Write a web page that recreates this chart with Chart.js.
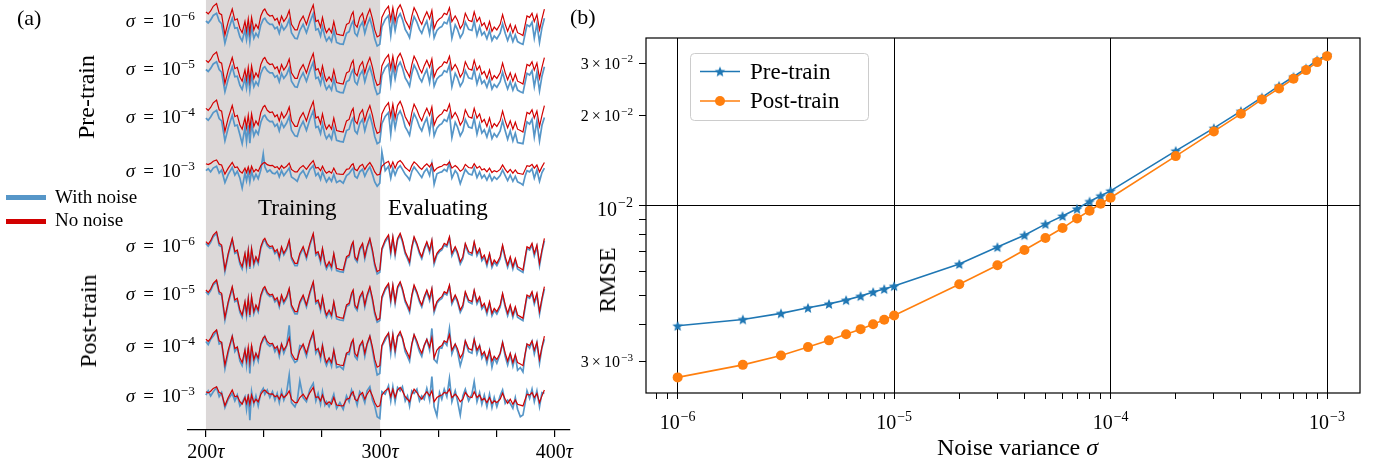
<!DOCTYPE html>
<html>
<head>
<meta charset="utf-8">
<script src="https://cdn.jsdelivr.net/npm/chart.js@4.4.1/dist/chart.umd.min.js"></script>
<style>
  body { margin: 0; background: #fff; }
  #wrap { position: relative; width: 1383px; height: 468px; font-family: 'Liberation Serif', serif; color: #000; overflow: hidden; }
  .abs { position: absolute; white-space: nowrap; line-height: normal; }
  .rot { position: absolute; white-space: nowrap; line-height: 1; transform: translate(-50%, -50%) rotate(-90deg); }
  .rowlab { position: absolute; left: 0; width: 195px; text-align: right; font-size: 19px; line-height: normal; white-space: nowrap; }
  .rowlab .eq { margin: 0 8px; }
  sup { font-size: 0.7em; line-height: 0; vertical-align: 0.55em; }
  #chartA { position: absolute; left: 0; top: 0; }
  #chartB { position: absolute; left: 570px; top: 0; }
  .sw { position: absolute; left: 6px; width: 40px; height: 5px; }
</style>
</head>
<body>
<div id="wrap">
  <canvas id="chartA" width="600" height="468"></canvas>
  <canvas id="chartB" width="813" height="468"></canvas>

  <div class="abs" style="left:17px; top:5px; font-size:22px">(a)</div>
  <div class="abs" style="left:570px; top:4px; font-size:22px">(b)</div>

  <div class="rot" style="left:86px; top:97px; font-size:24px">Pre-train</div>
  <div class="rot" style="left:88px; top:321px; font-size:24px">Post-train</div>

  <div class="rowlab" style="top:10px"><i>σ</i><span class="eq">=</span>10<sup>−6</sup></div>
  <div class="rowlab" style="top:58px"><i>σ</i><span class="eq">=</span>10<sup>−5</sup></div>
  <div class="rowlab" style="top:106px"><i>σ</i><span class="eq">=</span>10<sup>−4</sup></div>
  <div class="rowlab" style="top:160px"><i>σ</i><span class="eq">=</span>10<sup>−3</sup></div>
  <div class="rowlab" style="top:235px"><i>σ</i><span class="eq">=</span>10<sup>−6</sup></div>
  <div class="rowlab" style="top:283px"><i>σ</i><span class="eq">=</span>10<sup>−5</sup></div>
  <div class="rowlab" style="top:335px"><i>σ</i><span class="eq">=</span>10<sup>−4</sup></div>
  <div class="rowlab" style="top:385px"><i>σ</i><span class="eq">=</span>10<sup>−3</sup></div>

  <div class="sw" style="top:195px; background:#5696c8"></div>
  <div class="sw" style="top:219px; background:#d20000"></div>
  <div class="abs" style="left:55px; top:186px; font-size:19px">With noise</div>
  <div class="abs" style="left:55px; top:209px; font-size:19px">No noise</div>

  <div class="abs" style="left:258px; top:195px; font-size:23px">Training</div>
  <div class="abs" style="left:388px; top:195px; font-size:23px">Evaluating</div>

  <div class="rot" style="left:607px; top:280px; font-size:24px">RMSE</div>
  <div class="abs" style="left:937px; top:434px; font-size:24px">Noise variance <i>σ</i></div>
</div>

<script>
// ---------- panel (a): time series ----------
const timeSteps = [
  200.0, 201.3, 202.7, 204.2, 206.1, 207.6, 209.0, 210.9, 212.8, 215.1,
  216.6, 218.0, 219.5, 220.8, 222.4, 223.3, 224.3, 225.2, 226.2, 227.5,
  228.7, 230.0, 231.5, 232.9, 233.8, 235.2, 236.7, 238.2, 239.6, 240.9,
  242.1, 243.4, 244.7, 246.3, 247.8, 249.1, 251.1, 252.4, 253.9, 255.8,
  257.7, 259.7, 261.6, 263.1, 264.4, 265.8, 266.9, 268.3, 269.2, 270.7,
  272.1, 273.4, 275.0, 276.9, 278.8, 280.7, 282.2, 283.6, 284.5, 285.5,
  286.8, 288.3, 289.9, 291.2, 292.5, 294.1, 295.6, 296.9, 298.3, 299.8,
  301.0, 302.9, 304.8, 306.1, 307.3, 308.6, 310.0, 311.5, 312.8, 314.4,
  315.7, 316.9, 318.2, 319.5, 321.1, 322.6, 323.9, 325.3, 326.8, 328.4,
  329.7, 331.0, 332.6, 334.1, 335.4, 336.8, 338.3, 339.8, 341.2, 343.1,
  344.4, 346.0, 347.5, 348.9, 350.8, 352.7, 354.0, 355.6, 357.1, 358.4,
  359.8, 361.3, 362.8, 364.2, 365.5, 367.0, 368.9, 370.3, 371.8, 373.2,
  374.7, 376.2, 377.6, 378.9, 380.5, 382.0, 383.3, 384.3, 385.8, 387.2,
  388.5, 390.0, 391.5, 392.9, 394.3
];

// red "No noise" curve, same in every row
const noNoise = [
  0.95, 0.88, 0.98, 1.15, 1.25, 0.90, 0.85, 0.12, 0.60, 1.05,
  0.65, 0.70, 0.35, 0.20, 0.60, 0.25, 0.70, 0.20, 0.75, 0.30,
  0.50, 0.35, 0.80, 1.00, 1.05, 0.88, 0.80, 0.82, 0.65, 0.72,
  0.50, 0.80, 0.60, 0.75, 1.00, 0.50, 0.30, 0.30, 0.60, 0.80,
  0.50, 0.90, 1.20, 0.60, 0.65, 0.40, 0.75, 0.35, 0.20, 0.35,
  0.20, 0.60, 0.15, 0.12, 0.10, 0.50, 0.55, 0.85, 0.95, 0.50,
  0.40, 0.75, 0.90, 0.50, 0.80, 1.05, 0.70, 0.30, 0.05, 0.10,
  0.75, 1.00, 1.15, 0.65, 1.10, 0.60, 1.05, 1.20, 1.00, 0.65,
  0.50, 0.35, 0.80, 1.10, 0.90, 0.65, 0.50, 0.75, 0.95, 0.70,
  1.00, 0.35, 0.60, 0.70, 0.75, 0.90, 0.85, 1.10, 0.60, 0.80,
  0.65, 0.35, 0.50, 0.90, 0.65, 0.60, 0.95, 0.60, 0.75, 0.45,
  0.55, 0.30, 0.60, 0.25, 0.40, 0.30, 0.50, 0.85, 0.50, 0.25,
  0.50, 0.20, 0.45, 0.20, 0.15, 0.10, 0.50, 0.80, 0.75, 0.90,
  0.60, 0.85, 0.30, 0.70, 1.05
];

// blue "With noise" curves
// pre-train, sigma = 1e-6 and 1e-5 (the two rows look identical)
const preLowNoise = [
  0.62, 0.55, 0.66, 0.82, 0.90, 0.62, 0.52, -0.18, 0.28, 0.72,
  0.36, 0.38, 0.05, -0.10, 0.30, -0.05, 0.38, -0.12, 0.42, 0.00,
  0.18, 0.05, 0.48, 0.68, 0.72, 0.58, 0.50, 0.50, 0.34, 0.40,
  0.18, 0.48, 0.30, 0.44, 0.68, 0.20, 0.00, -0.02, 0.28, 0.50,
  0.20, 0.58, 0.88, 0.30, 0.34, 0.08, 0.42, 0.05, -0.10, 0.04,
  -0.12, 0.28, -0.15, -0.20, -0.22, 0.18, 0.24, 0.52, 0.62, 0.18,
  0.08, 0.42, 0.58, 0.18, 0.48, 0.72, 0.38, -0.02, -0.28, -0.22,
  0.42, 0.68, 0.82, 0.10, 0.78, 0.28, 0.72, 0.88, 0.68, 0.32,
  0.18, 0.02, 0.48, 0.78, 0.58, 0.32, 0.18, 0.42, 0.62, 0.15,
  0.68, 0.02, 0.28, 0.38, 0.42, 0.58, 0.52, 0.78, 0.00, 0.48,
  0.32, 0.02, 0.18, 0.58, 0.32, 0.28, 0.62, 0.10, 0.42, 0.12,
  0.22, -0.02, 0.28, -0.08, 0.08, -0.02, 0.18, 0.52, 0.18, -0.08,
  0.18, -0.12, 0.12, -0.12, -0.18, -0.22, 0.18, 0.48, 0.42, 0.58,
  0.00, 0.52, -0.15, 0.38, 0.72
];
const pre4Noise = [
  0.60, 0.52, 0.64, 0.80, 0.88, 0.58, 0.50, -0.22, 0.25, 0.70,
  0.32, 0.35, 0.00, -0.32, 0.26, -0.25, 0.34, -0.30, 0.40, -0.04,
  0.15, 0.02, 0.45, 0.66, 0.70, 0.55, 0.47, 0.48, 0.30, 0.38,
  0.14, 0.45, 0.26, 0.42, 0.66, 0.16, -0.04, -0.06, 0.25, 0.48,
  0.16, 0.56, 0.86, 0.26, 0.30, 0.04, 0.40, 0.00, -0.14, 0.00,
  -0.16, 0.25, -0.20, -0.24, -0.26, 0.15, 0.20, 0.50, 0.60, 0.14,
  0.04, 0.40, 0.56, 0.14, 0.45, 0.70, 0.34, -0.06, -0.32, -0.26,
  0.40, 0.66, 0.80, 0.02, 0.76, 0.24, 0.70, 0.86, 0.66, 0.28,
  0.14, -0.02, 0.45, 0.76, 0.55, 0.28, 0.14, 0.40, 0.60, 0.08,
  0.66, -0.04, 0.24, 0.35, 0.40, 0.55, 0.48, 0.76, -0.10, 0.45,
  0.28, -0.04, 0.14, 0.55, 0.28, 0.24, 0.60, 0.02, 0.40, 0.06,
  0.18, -0.08, 0.24, -0.14, 0.04, -0.08, 0.14, 0.50, 0.14, -0.16,
  0.14, -0.22, 0.06, -0.28, -0.30, -0.32, 0.14, 0.46, 0.38, 0.56,
  -0.08, 0.50, -0.22, 0.34, 0.62
];
const pre3Noise = [
  0.40, 0.55, 0.30, 0.60, 0.75, 0.20, 0.45, -0.55, 0.10, 0.65,
  0.05, 0.35, -0.20, -1.00, 0.20, -0.40, 0.30, -0.50, 0.35, -0.30,
  0.10, -0.25, 0.45, 1.75, 0.70, 0.30, 0.45, 0.20, 0.15, 0.35,
  -0.10, 0.40, 0.00, 0.30, 0.60, -0.10, -0.30, -0.45, 0.10, 0.40,
  -0.15, 0.50, 0.80, 0.00, 0.20, -0.30, 0.30, -0.20, -0.50, -0.15,
  -0.45, 0.10, -0.55, -0.40, -0.60, 0.00, 0.15, 0.45, 0.60, -0.05,
  -0.20, 0.30, 0.50, -0.05, 0.35, 0.70, 0.10, -0.50, -0.85, -0.60,
  1.90, 0.40, 0.75, -0.20, 0.60, 0.05, 0.55, 0.80, 0.50, 0.10,
  -0.10, -0.35, 0.35, 0.70, 0.40, 0.10, -0.15, 0.30, 0.55, 0.00,
  0.95, -0.70, 0.15, 0.25, 0.30, 0.50, 0.35, 1.05, -0.20, 0.40,
  0.15, -0.65, -0.05, 0.50, 0.15, 0.05, 0.60, -0.15, 0.30, -0.20,
  0.05, -0.35, 0.10, -0.40, -0.10, -0.30, 0.00, 0.45, 0.00, -0.40,
  0.05, -0.45, -0.05, -0.50, -0.60, -0.75, 0.00, 0.40, 0.30, 0.55,
  -0.20, 0.45, -0.45, 0.25, 0.60
];
// post-train, sigma = 1e-6 and 1e-5
const postLowNoise = [
  0.90, 0.82, 0.93, 1.10, 1.20, 0.84, 0.80, 0.05, 0.55, 1.00,
  0.60, 0.64, 0.28, 0.13, 0.55, 0.18, 0.65, 0.13, 0.70, 0.24,
  0.45, 0.29, 0.75, 0.95, 1.00, 0.83, 0.75, 0.77, 0.59, 0.67,
  0.44, 0.75, 0.55, 0.70, 0.95, 0.44, 0.23, 0.23, 0.55, 0.75,
  0.44, 0.85, 1.15, 0.54, 0.60, 0.33, 0.70, 0.28, 0.13, 0.29,
  0.13, 0.55, 0.08, 0.05, 0.03, 0.45, 0.50, 0.80, 0.90, 0.44,
  0.34, 0.70, 0.85, 0.44, 0.75, 1.00, 0.64, 0.23, -0.02, 0.03,
  0.70, 0.95, 1.10, 0.58, 1.05, 0.54, 1.00, 1.15, 0.95, 0.59,
  0.44, 0.28, 0.75, 1.05, 0.85, 0.59, 0.44, 0.70, 0.90, 0.63,
  0.95, 0.28, 0.55, 0.65, 0.70, 0.85, 0.80, 1.05, 0.53, 0.75,
  0.59, 0.28, 0.44, 0.85, 0.59, 0.54, 0.90, 0.53, 0.70, 0.38,
  0.49, 0.23, 0.55, 0.18, 0.34, 0.23, 0.44, 0.80, 0.44, 0.18,
  0.44, 0.13, 0.39, 0.13, 0.08, 0.03, 0.44, 0.75, 0.70, 0.85,
  0.53, 0.80, 0.23, 0.65, 0.98
];
const post4Noise = [
  0.88, 0.78, 0.95, 1.06, 1.22, 0.80, 0.84, 0.00, 0.52, 1.04,
  0.55, 0.68, 0.25, 0.10, 0.58, 0.12, 0.68, -0.15, 0.74, 0.20,
  0.48, 0.25, 0.78, 0.92, 1.04, 0.80, 0.72, 0.80, 0.55, 0.70,
  0.40, 0.78, 0.50, 0.74, 1.40, 0.40, 0.20, 0.26, 0.75, 0.72,
  0.40, 0.88, 1.12, 0.50, 0.64, 0.30, 0.74, 0.24, 0.10, 0.32,
  0.08, 0.58, 0.04, 0.08, -0.02, 0.48, 0.46, 0.84, 0.88, 0.40,
  0.30, 0.74, 0.82, 0.40, 0.78, 1.04, 0.60, 0.18, -0.20, -0.15,
  0.72, 0.92, 1.14, 0.50, 1.08, 0.50, 1.04, 1.12, 0.98, 0.55,
  0.40, 0.24, 0.78, 1.08, 0.82, 0.55, 0.40, 0.74, 0.94, 0.60,
  1.30, 0.30, 0.20, 0.68, 0.66, 0.88, 0.76, 1.30, 0.48, 0.78,
  0.55, 0.10, 0.40, 0.88, 0.55, 0.50, 0.94, 0.48, 0.74, 0.34,
  0.52, 0.18, 0.58, 0.05, 0.36, 0.18, 0.48, 0.84, 0.40, 0.12,
  0.46, 0.08, 0.42, -0.05, 0.04, -0.10, 0.48, 0.78, 0.66, 0.88,
  0.48, 0.84, 0.18, 0.68, 0.95
];
const post3Noise = [
  0.75, 1.00, 0.70, 0.95, 1.20, 0.65, 0.90, 0.00, 0.50, 0.85,
  0.40, 0.75, 0.10, 0.30, 0.65, -0.10, 0.80, -0.75, 0.95, 0.20,
  0.70, 0.10, 0.90, 1.15, 0.80, 1.05, 0.60, 0.95, 0.45, 0.85,
  0.30, 1.00, 0.45, 0.90, 1.95, 0.30, 0.05, 0.40, 1.60, 0.60,
  0.35, 1.10, 1.45, 0.40, 0.85, 0.20, 0.95, 0.15, 0.35, 0.05,
  0.40, 0.80, -0.05, 0.30, -0.10, 0.70, 0.35, 1.05, 0.75, 0.65,
  0.15, 0.95, 0.70, 0.30, 1.00, 1.25, 0.45, 0.10, -0.55, -0.65,
  0.95, 0.80, 1.30, 0.40, 1.25, 0.35, 1.20, 1.00, 1.25, 0.40,
  0.70, 0.10, 1.00, 0.85, 1.10, 0.40, 0.70, 0.50, 1.15, 0.45,
  1.85, 0.05, -0.50, 0.90, 0.50, 1.10, 0.65, 1.75, 0.35, 1.00,
  0.40, -0.45, 0.70, 1.10, 0.40, 0.80, 1.55, 0.35, 0.90, 0.20,
  0.75, 0.05, 0.80, 0.00, 0.60, 0.05, 0.70, 1.05, 0.25, 0.45,
  0.25, -0.05, 0.60, -0.10, -0.55, -0.45, 0.30, 1.00, 0.55, 1.10,
  0.35, 1.00, 0.05, 0.90, 0.85
];

const timeTicks = [200, 233.33, 266.67, 300, 333.33, 366.67, 400];
const timeLabels = [200, 300, 400];

// one blue curve per row, top to bottom
const rowBlue = [preLowNoise, preLowNoise, pre4Noise, pre3Noise,
                 postLowNoise, postLowNoise, post4Noise, post3Noise];
// row layout: pixel of the red peak, pixels per unit
const rowPeakPx = [3.5, 52, 100, 160, 231.7, 280, 330, 386.7];
const rowPxPerUnit = [27.8, 27.8, 27.8, 12.5, 33.3, 33.3, 31, 16.7];

const BLUE_A = '#5696c8';
const RED_A = '#d20000';
const areaH = 430;
const peakVal = Math.max(...noNoise);

const scalesA = {
  x: {
    type: 'linear', min: 189.7, max: 409,
    afterBuildTicks: s => { s.ticks = timeTicks.map(v => ({ value: v })); },
    afterFit: s => { s.height = 38; },
    ticks: { display: false },
    grid: { drawOnChartArea: false, drawTicks: true, tickLength: 7, color: '#000', tickColor: '#000', lineWidth: 1.2 },
    border: { display: true, color: '#000', width: 1.3 }
  }
};
const datasetsA = [];
rowBlue.forEach((blue, r) => {
  const top = peakVal + rowPeakPx[r] / rowPxPerUnit[r];
  scalesA['y' + r] = { type: 'linear', display: false, min: top - areaH / rowPxPerUnit[r], max: top };
  datasetsA.push({
    data: timeSteps.map((t, k) => ({ x: t, y: noNoise[k] })),
    yAxisID: 'y' + r, borderColor: RED_A, borderWidth: 1.2, pointRadius: 0, order: 1
  });
  datasetsA.push({
    data: timeSteps.map((t, k) => ({ x: t, y: blue[k] })),
    yAxisID: 'y' + r, borderColor: BLUE_A, borderWidth: 1.7, pointRadius: 0, order: 2
  });
});

const bandPlugin = {
  id: 'band',
  beforeDraw(chart) {
    const { ctx, chartArea: a, scales: { x } } = chart;
    ctx.save();
    ctx.fillStyle = '#dcd8d8';
    const x0 = x.getPixelForValue(200), x1 = x.getPixelForValue(300);
    ctx.fillRect(x0, a.top, x1 - x0, a.bottom - a.top);
    ctx.restore();
  },
  afterDraw(chart) {
    const { ctx, scales: { x } } = chart;
    ctx.save();
    ctx.fillStyle = '#000';
    ctx.textBaseline = 'alphabetic';
    timeLabels.forEach(v => {
      const px = x.getPixelForValue(v);
      ctx.font = "20px 'Liberation Serif'";
      const w1 = ctx.measureText(String(v)).width;
      ctx.font = "italic 20px 'Liberation Serif'";
      const w2 = ctx.measureText('τ').width;
      const x0 = px - (w1 + w2) / 2;
      ctx.font = "20px 'Liberation Serif'";
      ctx.fillText(String(v), x0, 458);
      ctx.font = "italic 20px 'Liberation Serif'";
      ctx.fillText('τ', x0 + w1, 458);
    });
    ctx.restore();
  }
};

new Chart(document.getElementById('chartA'), {
  type: 'line',
  data: { datasets: datasetsA },
  options: {
    responsive: false, animation: false, devicePixelRatio: 1,
    layout: { padding: { left: 188, right: 30, top: 0, bottom: 0 } },
    plugins: { legend: { display: false }, tooltip: { enabled: false } },
    scales: scalesA
  },
  plugins: [bandPlugin]
});

// ---------- panel (b): RMSE vs noise variance ----------
const noiseVar = [1e-6, 2e-6, 3e-6, 4e-6, 5e-6, 6e-6, 7e-6, 8e-6, 9e-6,
                  1e-5, 2e-5, 3e-5, 4e-5, 5e-5, 6e-5, 7e-5, 8e-5, 9e-5,
                  1e-4, 2e-4, 3e-4, 4e-4, 5e-4, 6e-4, 7e-4, 8e-4, 9e-4, 1e-3];
const rmsePre = [3.96e-3, 4.16e-3, 4.36e-3, 4.55e-3, 4.69e-3, 4.83e-3, 4.98e-3, 5.14e-3, 5.26e-3,
                 5.38e-3, 6.38e-3, 7.27e-3, 7.97e-3, 8.68e-3, 9.24e-3, 9.77e-3, 1.034e-2, 1.080e-2,
                 1.122e-2, 1.528e-2, 1.820e-2, 2.076e-2, 2.307e-2, 2.523e-2, 2.706e-2, 2.886e-2, 3.077e-2, 3.20e-2];
const rmsePost = [2.66e-3, 2.93e-3, 3.15e-3, 3.36e-3, 3.54e-3, 3.71e-3, 3.86e-3, 4.01e-3, 4.15e-3,
                  4.29e-3, 5.46e-3, 6.32e-3, 7.11e-3, 7.80e-3, 8.42e-3, 9.07e-3, 9.62e-3, 1.016e-2,
                  1.064e-2, 1.467e-2, 1.775e-2, 2.033e-2, 2.272e-2, 2.473e-2, 2.665e-2, 2.849e-2, 3.03e-2, 3.173e-2];

const xTicksB = [8e-7, 9e-7, 1e-6, 2e-6, 3e-6, 4e-6, 5e-6, 6e-6, 7e-6, 8e-6, 9e-6,
                 1e-5, 2e-5, 3e-5, 4e-5, 5e-5, 6e-5, 7e-5, 8e-5, 9e-5,
                 1e-4, 2e-4, 3e-4, 4e-4, 5e-4, 6e-4, 7e-4, 8e-4, 9e-4, 1e-3];
const xDecades = [1e-6, 1e-5, 1e-4, 1e-3];
const yTicksB = [3e-3, 4e-3, 5e-3, 6e-3, 7e-3, 8e-3, 9e-3, 1e-2, 2e-2, 3e-2];
const yLabels = [
  { v: 3e-2, mant: '3', exp: '2' },
  { v: 2e-2, mant: '2', exp: '2' },
  { v: 1e-2, mant: '', exp: '2' },
  { v: 3e-3, mant: '3', exp: '3' }
];

const C_PRE = '#1f77b4';
const C_POST = '#ff7f0e';

function makeStar(r, color) {
  const c = document.createElement('canvas');
  const size = Math.ceil(2 * r + 2);
  c.width = c.height = size;
  const g = c.getContext('2d');
  g.fillStyle = color;
  g.beginPath();
  for (let k = 0; k < 10; k++) {
    const ang = -Math.PI / 2 + k * Math.PI / 5;
    const rad = k % 2 === 0 ? r : r * 0.45;
    g.lineTo(size / 2 + rad * Math.cos(ang), size / 2 + rad * Math.sin(ang) + 0.5);
  }
  g.closePath();
  g.fill();
  return c;
}
const starImg = makeStar(5.6, C_PRE);

const isDecade = v => Math.abs(Math.log10(v) - Math.round(Math.log10(v))) < 1e-6;
const gridColor = c => (c.tick && isDecade(c.tick.value)) ? '#000' : 'rgba(0,0,0,0)';

function drawPow(ctx, x, y, mant, exp, size, align) {
  const base = (mant ? mant + '\u2009×\u200910' : '10');
  const sup = '−' + exp;
  const fBase = size + "px 'Liberation Serif'";
  const fSup = (size * 0.7).toFixed(1) + "px 'Liberation Serif'";
  ctx.font = fBase;
  const wb = ctx.measureText(base).width;
  ctx.font = fSup;
  const ws = ctx.measureText(sup).width;
  const w = wb + ws + 1;
  const x0 = align === 'right' ? x - w : x - w / 2;
  ctx.font = fBase;
  ctx.fillText(base, x0, y);
  ctx.font = fSup;
  ctx.fillText(sup, x0 + wb + 1, y - size * 0.42);
}

const decorB = {
  id: 'decorB',
  afterDraw(chart) {
    const { ctx, chartArea: a, scales: { x, y } } = chart;
    ctx.save();
    ctx.strokeStyle = '#000';
    ctx.lineWidth = 1.2;
    ctx.strokeRect(a.left, a.top, a.right - a.left, a.bottom - a.top);

    ctx.fillStyle = '#000';
    ctx.textAlign = 'left';
    ctx.textBaseline = 'alphabetic';
    xDecades.forEach(v => {
      drawPow(ctx, x.getPixelForValue(v), 429, '', String(-Math.round(Math.log10(v))), 20, 'center');
    });
    yLabels.forEach(l => {
      const py = y.getPixelForValue(l.v);
      if (l.mant) drawPow(ctx, 63, py + 5.5, l.mant, l.exp, 16, 'right');
      else drawPow(ctx, 63, py + 10, '', l.exp, 20, 'right');
    });

    // legend
    const bx = 120.5, by = 53.5, bw = 178, bh = 67, rr = 4;
    ctx.beginPath();
    ctx.moveTo(bx + rr, by);
    ctx.lineTo(bx + bw - rr, by); ctx.arcTo(bx + bw, by, bx + bw, by + rr, rr);
    ctx.lineTo(bx + bw, by + bh - rr); ctx.arcTo(bx + bw, by + bh, bx + bw - rr, by + bh, rr);
    ctx.lineTo(bx + rr, by + bh); ctx.arcTo(bx, by + bh, bx, by + bh - rr, rr);
    ctx.lineTo(bx, by + rr); ctx.arcTo(bx, by, bx + rr, by, rr);
    ctx.closePath();
    ctx.fillStyle = 'rgba(255,255,255,0.8)';
    ctx.fill();
    ctx.strokeStyle = '#cccccc';
    ctx.lineWidth = 1;
    ctx.stroke();

    const rows = [{ yy: 71.5, c: C_PRE, label: 'Pre-train' }, { yy: 101, c: C_POST, label: 'Post-train' }];
    rows.forEach((r, i) => {
      ctx.strokeStyle = r.c;
      ctx.lineWidth = 1.5;
      ctx.beginPath(); ctx.moveTo(130, r.yy); ctx.lineTo(170, r.yy); ctx.stroke();
      if (i === 0) {
        ctx.drawImage(starImg, 150 - starImg.width / 2, r.yy - starImg.height / 2);
      } else {
        ctx.fillStyle = r.c;
        ctx.beginPath(); ctx.arc(150, r.yy, 5, 0, Math.PI * 2); ctx.fill();
      }
      ctx.fillStyle = '#000';
      ctx.font = "23px 'Liberation Serif'";
      ctx.fillText(r.label, 180, r.yy + 7);
    });
    ctx.restore();
  }
};

new Chart(document.getElementById('chartB'), {
  type: 'line',
  data: {
    datasets: [
      {
        label: 'Post-train',
        data: noiseVar.map((v, i) => ({ x: v, y: rmsePost[i] })),
        borderColor: C_POST, backgroundColor: C_POST, borderWidth: 1.6,
        pointStyle: 'circle', pointRadius: 5, pointBorderWidth: 0, order: 0
      },
      {
        label: 'Pre-train',
        data: noiseVar.map((v, i) => ({ x: v, y: rmsePre[i] })),
        borderColor: C_PRE, backgroundColor: C_PRE, borderWidth: 1.6,
        pointStyle: starImg, pointRadius: 5, order: 1
      }
    ]
  },
  options: {
    responsive: false, animation: false, devicePixelRatio: 1,
    layout: { padding: { left: 0, top: 38, right: 23, bottom: 0 } },
    plugins: { legend: { display: false }, tooltip: { enabled: false } },
    scales: {
      x: {
        type: 'logarithmic', min: 7.14e-7, max: 1.42e-3,
        afterBuildTicks: s => { s.ticks = xTicksB.map(v => ({ value: v })); },
        afterFit: s => { s.height = 75; },
        ticks: { display: false },
        grid: { color: gridColor, tickColor: '#000', tickLength: 6, lineWidth: 1 },
        border: { display: false }
      },
      y: {
        type: 'logarithmic', min: 0.002358, max: 0.0365,
        afterBuildTicks: s => { s.ticks = yTicksB.map(v => ({ value: v })); },
        afterFit: s => { s.width = 76; },
        ticks: { display: false },
        grid: { color: gridColor, tickColor: '#000', tickLength: 7, lineWidth: 1 },
        border: { display: false }
      }
    }
  },
  plugins: [decorB]
});
</script>
</body>
</html>
